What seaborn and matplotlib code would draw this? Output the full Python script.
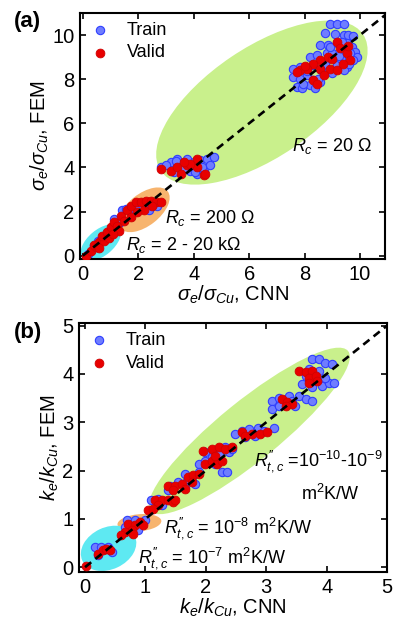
import numpy as np
import pandas as pd
import seaborn as sns
import matplotlib
matplotlib.use("Agg")
import matplotlib.pyplot as plt
from matplotlib.patches import Ellipse
from matplotlib.transforms import ScaledTranslation

# ---- panel (a): electrical conductivity, CNN vs FEM ----
a_train_x = [8.92, 9.16, 9.41, 8.74, 9.10, 9.41, 9.58, 9.76, 8.56, 8.86, 9.16, 9.53, 9.70, 9.35,
             8.20, 8.44, 8.80, 9.41, 9.82, 9.88, 9.00, 7.60, 7.84, 8.32, 8.74, 9.16, 9.53, 9.41,
             9.76, 7.60, 7.84, 8.08, 8.32, 8.56, 7.72, 7.90, 8.20, 8.38, 9.00, 9.30, 9.60, 8.60,
             8.10, 8.90, 9.25, 9.65, 7.95, 8.50,
             2.81, 3.17, 3.41, 3.53, 3.76, 4.00, 4.24, 4.48, 4.72, 3.88, 4.12, 4.36, 3.29, 3.65,
             4.60, 3.00, 3.90, 4.30, 3.35, 4.05,
             0.20, 0.40, 1.05, 1.13, 1.43, 1.55, 2.33, 2.39, 2.69, 1.73, 2.09, 0.80, 1.30, 2.20,
             0.55, 1.90, 2.55]
a_train_y = [10.50, 10.50, 10.50, 10.08, 10.05, 10.00, 10.00, 9.95, 9.55, 9.55, 9.62, 9.62, 9.48, 9.70,
             9.00, 9.10, 9.17, 9.25, 9.25, 9.02, 9.20, 8.48, 8.56, 8.64, 8.71, 8.64, 8.56, 8.41,
             8.86, 8.11, 8.03, 8.18, 7.95, 7.88, 7.65, 7.58, 7.72, 7.58, 8.30, 8.90, 8.70, 8.40,
             8.35, 9.45, 9.05, 9.20, 7.80, 8.00,
             4.02, 4.24, 4.39, 4.17, 4.39, 4.24, 4.32, 4.39, 4.47, 3.86, 3.71, 3.86, 3.79, 3.94,
             4.09, 4.10, 4.10, 4.00, 4.30, 3.80,
             0.08, 0.45, 1.14, 1.67, 2.05, 2.12, 2.27, 2.05, 2.27, 1.97, 2.27, 0.90, 1.50, 2.40,
             0.65, 2.10, 2.35]
a_valid_x = [9.16, 9.29, 9.53, 8.86, 8.56, 8.32, 8.08, 7.84, 7.72, 8.56, 8.92, 9.16, 8.32, 8.44,
             9.64, 9.58, 8.00, 9.00, 9.40, 8.70,
             2.81, 3.17, 3.41, 3.53, 3.76, 4.12, 4.12, 4.36, 4.42, 3.88, 3.65,
             0.11, 0.29, 0.47, 0.59, 0.77, 0.71, 0.89, 1.01, 1.13, 1.25, 1.31, 1.37, 1.61, 1.73,
             1.91, 2.09, 2.27, 2.45, 2.63, 2.81, 2.51, 2.21, 1.97, 1.73, 1.49, 0.40, 0.60, 0.95, 1.10]
a_valid_y = [9.70, 9.40, 9.17, 9.02, 8.86, 8.71, 8.48, 8.41, 8.33, 8.48, 8.48, 8.41, 7.95, 7.80,
             8.86, 9.50, 8.60, 8.90, 8.70, 8.20,
             3.94, 3.86, 4.02, 3.71, 4.09, 4.39, 4.02, 3.64, 3.71, 4.17, 4.24,
             0.00, 0.23, 0.38, 0.61, 0.68, 0.91, 1.06, 1.29, 1.52, 1.36, 1.14, 1.82, 2.05, 2.27,
             2.42, 2.42, 2.50, 2.50, 2.42, 2.42, 2.27, 2.05, 1.97, 1.74, 1.59, 0.50, 0.35, 0.80, 1.00]

# ---- panel (b): thermal conductivity, CNN vs FEM ----
b_train_x = [3.76, 3.87, 3.98, 4.09, 3.70, 3.65, 3.59, 3.76, 3.93, 4.04, 4.12, 3.98, 3.87,
             3.10, 3.21, 3.37, 3.54, 3.65, 3.76, 3.10, 3.21, 3.48, 3.43,
             2.49, 2.60, 2.71, 2.87, 2.96, 3.12, 2.65, 2.82,
             1.88, 1.99, 2.10, 2.21, 2.32, 2.38, 2.43, 2.26, 2.35, 2.15, 1.99,
             1.66, 1.77, 1.88, 1.68, 1.82,
             1.41, 1.54, 1.66, 1.38,
             1.10, 1.21, 1.27,
             0.69, 0.77, 0.88, 0.99, 0.66, 0.83,
             0.16, 0.22, 0.27, 0.44, 0.38]
b_train_y = [4.30, 4.30, 4.23, 4.20, 4.10, 3.96, 3.79, 3.72, 3.75, 3.82, 3.82, 3.92, 4.06,
             3.44, 3.51, 3.55, 3.55, 3.48, 3.44, 3.27, 3.34, 3.34, 3.44,
             2.76, 2.82, 2.86, 2.89, 2.82, 2.89, 2.69, 2.72,
             2.14, 2.20, 2.27, 2.34, 2.48, 2.38, 2.45, 1.97, 1.97, 2.14, 2.38,
             1.93, 1.86, 1.97, 1.79, 1.73,
             1.69, 1.76, 1.66, 1.59,
             1.38, 1.41, 1.28,
             0.97, 0.90, 0.76, 0.97, 0.83, 0.97,
             0.42, 0.25, 0.42, 0.32, 0.42]
b_valid_x = [3.54, 3.65, 3.76, 3.70, 3.82, 3.84, 3.70,
             3.26, 3.34, 3.43, 3.32,
             2.60, 2.76, 2.90, 3.01, 2.65,
             1.96, 2.10, 2.21, 2.32, 2.43, 1.99, 2.10, 2.18, 2.26, 2.15,
             1.71, 1.79, 1.88, 1.77,
             1.38, 1.49, 1.60, 1.46, 1.66,
             1.16, 1.27, 1.38, 1.46, 1.49, 1.21, 1.05, 1.13,
             0.71, 0.83, 0.91, 0.96, 0.77, 0.66, 0.60, 0.80,
             0.22, 0.30, 0.35, 0.41,
             0.02]
b_valid_y = [4.06, 4.03, 4.06, 3.92, 3.96, 3.86, 3.82,
             3.48, 3.41, 3.37, 3.34,
             2.79, 2.76, 2.76, 2.79, 2.72,
             2.41, 2.45, 2.48, 2.45, 2.48, 2.14, 2.20, 2.14, 2.20, 2.31,
             1.86, 1.90, 1.93, 1.76,
             1.69, 1.69, 1.73, 1.59, 1.62,
             1.38, 1.38, 1.38, 1.35, 1.38, 1.28, 1.18, 1.21,
             0.90, 0.87, 0.93, 0.87, 0.76, 0.73, 0.66, 0.69,
             0.28, 0.35, 0.38, 0.35,
             0.02]

sns.set_style("ticks")
plt.rcParams['font.family'] = ['Liberation Sans', 'DejaVu Sans']
plt.rcParams['mathtext.fontset'] = 'custom'
plt.rcParams['mathtext.rm'] = 'Liberation Sans'
plt.rcParams['mathtext.it'] = 'Liberation Sans:italic'
plt.rcParams['mathtext.bf'] = 'Liberation Sans:bold'
for key in ['text.color', 'axes.labelcolor', 'xtick.color', 'ytick.color', 'axes.edgecolor']:
    plt.rcParams[key] = 'black'

BLUE_FACE, BLUE_EDGE = '#6f7dff', '#2f3fff'
RED_FACE, RED_EDGE = '#e80000', '#d00000'
GREEN, ORANGE, CYAN = '#c9f08c', '#f7b46e', '#5ee9f2'

fig = plt.figure(figsize=(3.93, 6.22), dpi=100)
ax_a = fig.add_axes([0.2036, 0.5836, 0.776, 0.3955])
ax_b = fig.add_axes([0.201, 0.0804, 0.784, 0.400])


def blob(ax, cx, cy, a_px, b_px, ang, color):
    # ellipse sized in pixels, centred on a data point
    tr = fig.dpi_scale_trans + ScaledTranslation(cx, cy, ax.transData)
    e = Ellipse((0, 0), 2 * a_px / 100, 2 * b_px / 100, angle=ang,
                transform=tr, facecolor=color, edgecolor='none', zorder=0)
    ax.add_patch(e)


def panel(ax, tx, ty, vx, vy, lim_x, lim_y, ticks, lab):
    sns.scatterplot(x=tx, y=ty, ax=ax, color=BLUE_FACE, edgecolor=BLUE_EDGE,
                    linewidth=0.8, s=36, label='Train', zorder=2)
    sns.scatterplot(x=vx, y=vy, ax=ax, color=RED_FACE, edgecolor=RED_EDGE,
                    linewidth=0.6, s=40, label='Valid', zorder=3)
    ax.plot([0, 12], [0, 12], color='black', ls=(0, (3, 2)), lw=1.9, zorder=4)
    ax.set_xlim(*lim_x)
    ax.set_ylim(*lim_y)
    ax.set_xticks(ticks)
    ax.set_yticks(ticks)
    ax.tick_params(direction='in', length=4, width=1.2, top=True, right=True,
                   labelsize=14.5, pad=4)
    for sp in ax.spines.values():
        sp.set_linewidth(1.5)
    ax.set_xlabel(lab + ", CNN", fontsize=14.5, labelpad=0)
    ax.set_ylabel(lab + ", FEM", fontsize=14.5, labelpad=1)
    ax.legend(loc='upper left', frameon=False, fontsize=13, handlelength=1.2,
              handletextpad=0.9, borderaxespad=0.1, labelspacing=0.3, borderpad=0.4)


panel(ax_a, a_train_x, a_train_y, a_valid_x, a_valid_y, (-0.1, 10.9), (-0.15, 11.0),
      [0, 2, 4, 6, 8, 10], r"$\sigma_e/\sigma_{Cu}$")
blob(ax_a, 6.46, 6.94, 122, 55, 34, GREEN)
blob(ax_a, 2.21, 2.08, 30, 16, 38, ORANGE)
blob(ax_a, 0.65, 0.59, 24, 13, 40, CYAN)
ax_a.text(7.55, 4.75, r"$R_c$ = 20 Ω", fontsize=13)
ax_a.text(2.98, 1.5, r"$R_c$ = 200 Ω", fontsize=13)
ax_a.text(1.55, 0.25, r"$R_c$ = 2 - 20 kΩ", fontsize=13)

panel(ax_b, b_train_x, b_train_y, b_valid_x, b_valid_y, (-0.1, 5.0), (-0.1, 5.05),
      [0, 1, 2, 3, 4, 5], r"$k_e/k_{Cu}$")
blob(ax_b, 2.72, 2.82, 127, 30, 39, GREEN)
blob(ax_b, 0.90, 0.92, 22, 8.5, 5, ORANGE)
blob(ax_b, 0.39, 0.39, 29, 21, 25, CYAN)
ax_b.text(2.79, 2.1, r"$R^{\prime\prime}_{t,c}$ =10$^{-10}$-10$^{-9}$", fontsize=13)
ax_b.text(3.57, 1.38, r"m$^2$K/W", fontsize=13)
ax_b.text(1.30, 0.72, r"$R^{\prime\prime}_{t,c}$ = 10$^{-8}$ m$^2$K/W", fontsize=13)
ax_b.text(0.88, 0.10, r"$R^{\prime\prime}_{t,c}$ = 10$^{-7}$ m$^2$K/W", fontsize=13)

fig.text(0.035, 0.965, "(a)", fontsize=16, fontweight='bold', va='center')
fig.text(0.035, 0.465, "(b)", fontsize=16, fontweight='bold', va='center')

fig.savefig("out.png", dpi=100)
